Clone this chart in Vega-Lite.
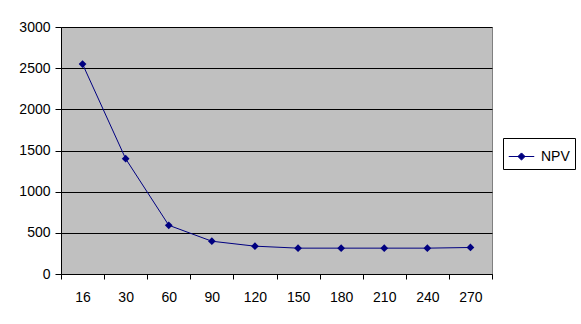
{
  "$schema": "https://vega.github.io/schema/vega-lite/v6.json",
  "width": 431,
  "height": 247,
  "autosize": {"type": "none"},
  "padding": {"left": 61, "top": 27, "right": 89, "bottom": 50},
  "background": "white",
  "data": {
    "values": [
      {"period": "16", "npv": 2550, "series": "NPV"},
      {"period": "30", "npv": 1400, "series": "NPV"},
      {"period": "60", "npv": 592, "series": "NPV"},
      {"period": "90", "npv": 398, "series": "NPV"},
      {"period": "120", "npv": 338, "series": "NPV"},
      {"period": "150", "npv": 314, "series": "NPV"},
      {"period": "180", "npv": 314, "series": "NPV"},
      {"period": "210", "npv": 314, "series": "NPV"},
      {"period": "240", "npv": 314, "series": "NPV"},
      {"period": "270", "npv": 322, "series": "NPV"}
    ]
  },
  "config": {
    "view": {"fill": "#C0C0C0", "stroke": "#808080", "strokeWidth": 1},
    "font": "Liberation Sans",
    "axis": {
      "labelFont": "Liberation Sans",
      "labelFontSize": 14,
      "labelColor": "black",
      "domainColor": "black",
      "tickColor": "black",
      "gridColor": "black",
      "gridOpacity": 1,
      "title": null
    }
  },
  "mark": {"type": "line", "color": "#000080", "strokeWidth": 1,
    "point": {"shape": "diamond", "filled": true, "size": 60, "color": "#000080"}},
  "encoding": {
    "x": {
      "field": "period", "type": "ordinal", "sort": null,
      "scale": {"type": "band", "paddingInner": 0, "paddingOuter": 0},
      "axis": {"labelAngle": 0, "tickBand": "extent", "tickSize": 5, "labelPadding": 11, "grid": false}
    },
    "y": {
      "field": "npv", "type": "quantitative",
      "scale": {"domain": [0, 3000], "nice": false},
      "axis": {"values": [0, 500, 1000, 1500, 2000, 2500, 3000], "format": "d", "tickSize": 6, "labelPadding": 5, "grid": true}
    },
    "color": {
      "field": "series", "type": "nominal",
      "scale": {"range": ["#000080"]},
      "legend": {
        "title": null,
        "orient": "none",
        "legendX": 442,
        "legendY": 111,
        "strokeColor": "black",
        "fillColor": "white",
        "padding": 5,
        "labelOffset": 6,
        "symbolType": "M-1,0H1M0,-0.28L0.28,0L0,0.28L-0.28,0Z",
        "symbolSize": 650,
        "symbolStrokeWidth": 1,
        "symbolFillColor": "#000080",
        "symbolStrokeColor": "#000080",
        "labelFontSize": 14,
        "labelFont": "Liberation Sans",
        "labelColor": "black"
      }
    }
  }
}
